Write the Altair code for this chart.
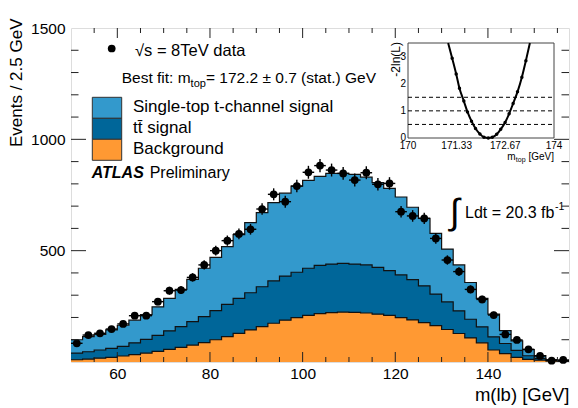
import altair as alt
import pandas as pd

FONT = "Liberation Sans"

# ---------------- data ----------------
bin_start = 50.0
bin_width = 2.5

# stacked histogram heights (cumulative): total = bg + ttbar + single-top
total_stack = [100, 114, 124, 144, 165, 188, 213, 248, 286, 326,
               371, 421, 470, 518, 572, 626, 671, 716, 758, 790,
               816, 834, 847, 847, 843, 830, 806, 780, 741, 695,
               645, 578, 507, 436, 357, 286, 215, 141, 95, 56,
               29, 11, 6]
ttbar_stack = [40, 46, 54, 61, 70, 86, 102, 120, 140, 159,
               181, 204, 231, 259, 286, 311, 338, 364, 386, 403,
               421, 434, 440, 443, 440, 436, 425, 410, 391, 370,
               342, 305, 270, 230, 192, 158, 113, 83, 52, 28,
               16, 9, 5]
background = [10, 13, 17, 21, 27, 33, 40, 48, 57, 66,
              76, 87, 100, 114, 129, 144, 159, 174, 188, 199,
              209, 217, 222, 224, 223, 220, 215, 209, 199, 189,
              177, 163, 146, 128, 108, 86, 54, 38, 21, 12,
              8, 5, 3]
data_counts = [84, 121, 129, 148, 171, 208, 208, 271, 320, 323,
               380, 436, 500, 545, 575, 596, 687, 753, 720, 790,
               852, 882, 862, 847, 817, 850, 798, 802, 675, 656,
               645, 555, 458, 406, 326, 281, 211, 124, 99, 57,
               27, 6, 9]
data_err = [9, 11, 11, 12, 13, 14, 14, 16, 18, 18,
            19, 21, 22, 23, 24, 24, 26, 27, 27, 28,
            29, 30, 29, 29, 29, 29, 28, 28, 26, 26,
            25, 24, 21, 20, 18, 17, 15, 11, 10, 8,
            5, 2, 3]

x_domain = [50, 157.5]
y_domain = [0, 1500]
x_label_values = [60, 80, 100, 120, 140]
y_label_values = [500, 1000, 1500]
x_major_ticks = [60, 80, 100, 120, 140]
x_minor_ticks = [55, 65, 70, 75, 85, 90, 95, 105, 110, 115, 125, 130, 135, 145, 150, 155]
y_major_ticks = [500, 1000]
y_minor_ticks = [100, 200, 300, 400, 600, 700, 800, 900, 1100, 1200, 1300, 1400]

# inset: likelihood scan
scan_mtop = [171.21, 171.32, 171.41, 171.53, 171.63, 171.74, 171.85, 171.97, 172.08, 172.20,
             172.31, 172.43, 172.54, 172.66, 172.77, 172.88, 173.00, 173.12, 173.23]
scan_nll = [2.94, 2.36, 1.83, 1.36, 0.96, 0.62, 0.35, 0.15, 0.03, 0.00,
            0.03, 0.14, 0.32, 0.57, 0.89, 1.27, 1.70, 2.24, 2.85]
curve_end_mtop = [171.10, 173.34]
curve_end_nll = [3.5, 3.5]
inset_x_domain = [170, 174]
inset_y_domain = [0, 3.5]
inset_levels = [0.5, 1.0, 1.5]
inset_x_label_values = [170, 171.333, 172.667, 174]
inset_x_label_texts = ["170", "171.33", "172.67", "174"]
inset_y_label_values = [0, 1, 2, 3]
inset_y_label_texts = ["0", "1", "2", "3"]

# ---------------- geometry ----------------
PAD_L, PAD_T = 63, 20
OX, OY = 8 + PAD_L, 8 + PAD_T      # page position of the plot origin
W, H = 498, 334
C_SINGLE = "#3399cc"
C_TT = "#006699"
C_BG = "#ff9933"


def px(xpage):
    return xpage - OX


def py(ypage):
    return ypage - OY


n = len(total_stack)
edges = [bin_start + bin_width * i for i in range(n + 1)]
step_df = pd.DataFrame({
    "x": edges,
    "total": total_stack + [total_stack[-1]],
    "tt": ttbar_stack + [ttbar_stack[-1]],
    "bg": background + [background[-1]],
})
centers = [bin_start + bin_width * (i + 0.5) for i in range(n)]
pts_df = pd.DataFrame({
    "x": centers,
    "lo": [c - bin_width / 2 for c in centers],
    "hi": [c + bin_width / 2 for c in centers],
    "y": data_counts,
    "ylo": [v - e for v, e in zip(data_counts, data_err)],
    "yhi": [v + e for v, e in zip(data_counts, data_err)],
})

xs = alt.Scale(domain=x_domain, nice=False, zero=False)
ys = alt.Scale(domain=y_domain, nice=False, zero=False)
x_axis = alt.Axis(values=x_label_values, format="d", ticks=False, domain=False, grid=False,
                  labelFontSize=15.5, labelColor="black", labelPadding=4, labelFont=FONT,
                  title="m(lb) [GeV]", titleFont=FONT, titleFontSize=18.5, titleFontWeight="normal",
                  titleColor="black", titleX=W, titleY=38, titleAlign="right",
                  titleBaseline="alphabetic")
y_axis = alt.Axis(values=y_label_values, format="d", ticks=False, domain=False, grid=False,
                  labelFontSize=15.5, labelColor="black", labelPadding=6, labelFont=FONT,
                  title="Events / 2.5 GeV", titleFont=FONT, titleFontSize=17,
                  titleFontWeight="normal", titleColor="black", titleX=px(16.5), titleY=py(18),
                  titleAlign="right", titleAngle=270, titleBaseline="middle")


def X(f):
    return alt.X(f, scale=xs, axis=x_axis)


def Y(f):
    return alt.Y(f, scale=ys, axis=y_axis)


base = alt.Chart(step_df)
areas = [
    base.mark_area(interpolate="step-after", color=c, opacity=1).encode(x=X("x:Q"), y=Y(f"{col}:Q"))
    for col, c in [("total", C_SINGLE), ("tt", C_TT), ("bg", C_BG)]
]
outlines = [
    base.mark_line(interpolate="step-after", color="#111", strokeWidth=1.2).encode(x=X("x:Q"), y=Y(f"{col}:Q"))
    for col in ["total", "tt", "bg"]
]

pts = alt.Chart(pts_df)
err_v = pts.mark_rule(color="black", strokeWidth=1.4).encode(x=X("x:Q"), y=Y("ylo:Q"), y2="yhi:Q")
err_h = pts.mark_rule(color="black", strokeWidth=1.4).encode(x=X("lo:Q"), x2="hi:Q", y=Y("y:Q"))
dots = pts.mark_point(filled=True, shape="circle", size=60, color="black", opacity=1).encode(x=X("x:Q"), y=Y("y:Q"))


def xticks(vals, length):
    d = alt.Chart(pd.DataFrame({"v": vals}))
    bot = d.mark_rule(color="#222", strokeWidth=1).encode(x=X("v:Q"), y=alt.value(H), y2=alt.value(H - length))
    top = d.mark_rule(color="#222", strokeWidth=1).encode(x=X("v:Q"), y=alt.value(0), y2=alt.value(length))
    return [bot, top]


def yticks(vals, length):
    d = alt.Chart(pd.DataFrame({"v": vals}))
    left = d.mark_rule(color="#222", strokeWidth=1).encode(y=Y("v:Q"), x=alt.value(0), x2=alt.value(length))
    right = d.mark_rule(color="#222", strokeWidth=1).encode(y=Y("v:Q"), x=alt.value(W), x2=alt.value(W - length))
    return [left, right]


ticks = xticks(x_major_ticks, 10) + xticks(x_minor_ticks, 5) + yticks(y_major_ticks, 15) + yticks(y_minor_ticks, 7.5)


def txt(s, xpage, ypage, size=16, align="left", baseline="alphabetic", **kw):
    return alt.Chart(pd.DataFrame({"t": [s]})).mark_text(
        align=align, baseline=baseline, fontSize=size, font=FONT, color="black", **kw
    ).encode(x=alt.value(px(xpage)), y=alt.value(py(ypage)), text="t:N")


def box(x0, y0, x1, y1, color):
    return alt.Chart(pd.DataFrame({"a": [0]})).mark_rect(color=color, stroke="#333", strokeWidth=1).encode(
        x=alt.value(px(x0)), x2=alt.value(px(x1)), y=alt.value(py(y0)), y2=alt.value(py(y1)))


legend_items = [
    ("Single-top t-channel signal", C_SINGLE),
    ("tt\u0304 signal", C_TT),
    ("Background", C_BG),
]
legend_layers = []
for i, (lab, col) in enumerate(legend_items):
    y0 = 97.3 + 21 * i
    legend_layers.append(box(92.3, y0, 121.7, y0 + 21, col))
    legend_layers.append(txt(lab, 133, y0 + 14.5, size=17))

data_marker = alt.Chart(pd.DataFrame({"a": [0]})).mark_point(
    filled=True, shape="circle", size=60, color="black", opacity=1).encode(
    x=alt.value(px(111.7)), y=alt.value(py(48.5)))

annotations = [
    data_marker,
    txt("\u221as = 8TeV data", 135, 56, size=16.5),
    txt("Best fit: m", 121.7, 83, size=15.5),
    txt("top", 190.6, 87, size=11),
    txt(" = 172.2 \u00b1 0.7 (stat.) GeV", 206, 83, size=15.5),
    txt("ATLAS", 91.7, 178, size=16, fontWeight="bold", fontStyle="italic"),
    txt("Preliminary", 149.7, 178, size=16),
    txt("\u222b", 455, 213, size=36, align="center", baseline="middle"),
    txt("Ldt = 20.3 fb", 465, 218, size=16),
    txt("-1", 555, 210, size=10.5),
]

main = alt.layer(*areas, *outlines, err_v, err_h, dots, *ticks, *legend_layers, *annotations)

# ---------------- inset ----------------
ixs = alt.Scale(domain=inset_x_domain, range=[px(408), px(554)], nice=False, zero=False)
iys = alt.Scale(domain=inset_y_domain, range=[py(138), py(43)], nice=False, zero=False)


def IX(f):
    return alt.X(f, scale=ixs, axis=None)


def IY(f):
    return alt.Y(f, scale=iys, axis=None)


frame_df = pd.DataFrame({"x0": [inset_x_domain[0]], "x1": [inset_x_domain[1]],
                         "y0": [inset_y_domain[0]], "y1": [inset_y_domain[1]]})
inset_frame = alt.Chart(frame_df).mark_rect(fill="white", stroke="#444", strokeWidth=1).encode(
    x=IX("x0:Q"), x2="x1:Q", y=IY("y0:Q"), y2="y1:Q")
lvl_df = pd.DataFrame({"y": inset_levels, "x0": inset_x_domain[0], "x1": inset_x_domain[1]})
inset_dash = alt.Chart(lvl_df).mark_rule(color="black", strokeWidth=1, strokeDash=[4, 3]).encode(
    x=IX("x0:Q"), x2="x1:Q", y=IY("y:Q"))
curve_df = pd.DataFrame({"m": [curve_end_mtop[0]] + scan_mtop + [curve_end_mtop[1]],
                         "v": [curve_end_nll[0]] + scan_nll + [curve_end_nll[1]]})
inset_curve = alt.Chart(curve_df).mark_line(interpolate="monotone", color="black", strokeWidth=2).encode(
    x=IX("m:Q"), y=IY("v:Q"), order="m:Q")
scan_df = pd.DataFrame({"m": scan_mtop, "v": scan_nll})
inset_dots = alt.Chart(scan_df).mark_point(filled=True, shape="circle", size=12, color="black", opacity=1).encode(
    x=IX("m:Q"), y=IY("v:Q"))
ixl = alt.Chart(pd.DataFrame({"xv": inset_x_label_values, "t": inset_x_label_texts})).mark_text(
    align="center", baseline="top", fontSize=10, font=FONT, color="black").encode(
    x=IX("xv:Q"), y=alt.value(py(141)), text="t:N")
iyl = alt.Chart(pd.DataFrame({"yv": inset_y_label_values, "t": inset_y_label_texts})).mark_text(
    align="right", baseline="middle", fontSize=10, font=FONT, color="black").encode(
    x=alt.value(px(406)), y=IY("yv:Q"), text="t:N")
inset_texts = [
    txt("m", 515.6, 160, size=10, align="right"),
    txt("top", 525.6, 162, size=7, align="right"),
    txt(" [GeV]", 554, 160, size=10, align="right"),
    txt("-2ln(L)", 396, 42, size=12, align="right", baseline="middle", angle=270),
]

inset = alt.layer(inset_frame, inset_dash, inset_curve, inset_dots, ixl, iyl, *inset_texts)

chart = alt.layer(main, inset).resolve_scale(x="independent", y="independent").properties(
    width=W, height=H,
    padding={"left": PAD_L, "top": PAD_T, "right": 1, "bottom": 44},
    autosize=alt.AutoSizeParams(type="none"),
).configure_view(stroke="black", strokeWidth=1.2).configure(font=FONT, background="white")

chart.save("out.html", embed_options={"renderer": "svg", "actions": False})
